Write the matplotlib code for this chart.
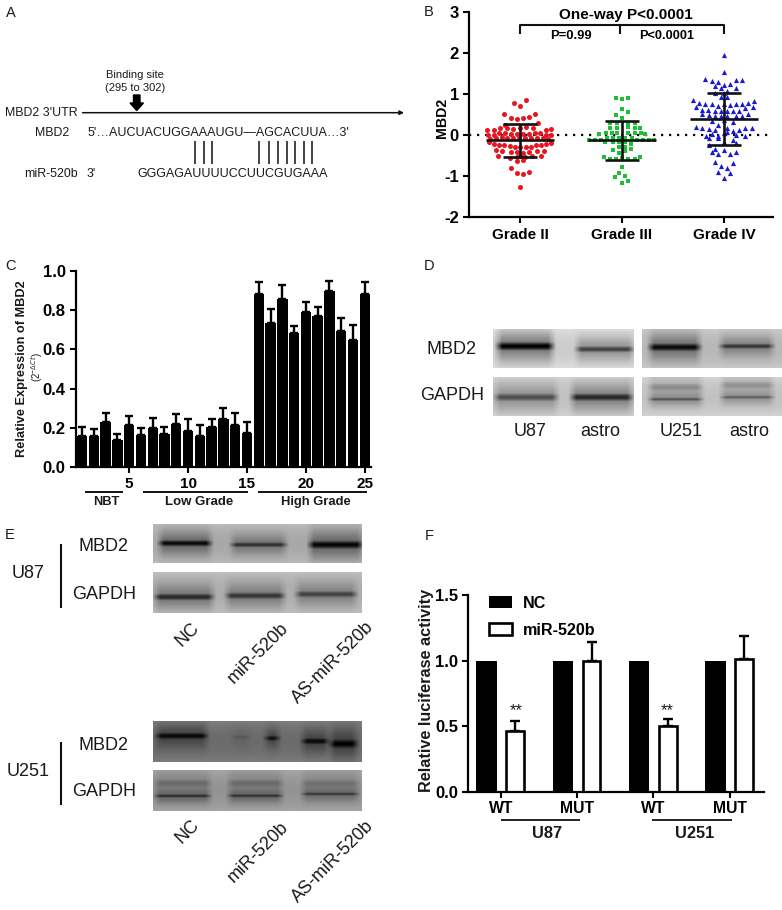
import numpy as np
import matplotlib
matplotlib.use("Agg")
import matplotlib.pyplot as plt
from matplotlib.patches import Polygon

plt.rcParams['font.family'] = ['Liberation Sans', 'DejaVu Sans']
plt.rcParams['mathtext.fontset'] = 'custom'
plt.rcParams['mathtext.rm'] = 'Liberation Sans'
plt.rcParams['mathtext.bf'] = 'Liberation Sans:bold'
W, H = 782, 910

# Panel B: (swarm offset in zoom px, value in zoom px)
red_pts = [(138,31),(101,40),(119,48),(73,73),(165,71),(92,83),(110,86),(128,84),(147,80),(174,100),(74,105),
 (22,120),(41,120),(60,115),(80,115),(100,117),(120,115),(138,112),(158,115),(197,120),(214,117),
 (24,134),(41,135),(58,130),(75,130),(92,132),(110,132),(128,133),(146,132),(165,130),(180,130),(197,135),(214,135),
 (30,147),(48,143),(65,142),(82,145),(100,145),(118,145),(135,145),(152,143),(170,143),(188,145),(205,147),
 (27,157),(42,163),(58,165),(73,166),(90,167),(106,170),(120,172),(137,172),(152,170),(168,166),(182,165),(197,163),(212,160),
 (47,181),(65,184),(92,187),(110,187),(128,188),(146,185),(172,183),(193,183),
 (55,198),(90,205),(110,200),(120,198),(135,200),(155,198),(183,197),(110,214),(128,210),
 (92,234),(110,248),(128,251),(147,246),(119,292)]
green_pts = [(101,25),(120,28),(138,24),(120,58),(138,66),(101,75),(120,84),(84,100),(105,100),(138,100),(158,100),
 (84,115),(105,113),(138,112),(158,115),(175,115),(52,132),(72,130),(90,130),(105,130),(138,130),(158,130),(178,130),(190,132),
 (22,150),(40,150),(58,150),(75,145),(93,143),(110,145),(128,143),(150,143),(165,150),(182,150),(200,150),(217,150),
 (70,155),(92,157),(110,155),(128,157),(148,162),(92,180),(110,170),(128,170),(148,178),(128,183),(110,190),
 (65,202),(83,208),(102,208),(120,205),(138,207),(158,207),(175,200),
 (120,230),(110,250),(100,262),(120,280),(130,258),(138,272)]
blue_pts = [(121,30),(121,82),(65,103),(84,107),(103,110),(158,106),(176,104),(94,124),(121,120),(139,116),(112,130),(130,138),(157,130),
 (94,145),(121,145),(112,157),(130,157),(29,166),(47,174),(212,168),(65,177),(84,177),(103,182),(121,177),(139,180),(157,178),(176,177),(194,174),
 (38,187),(56,195),(74,195),(93,197),(111,197),(130,197),(148,197),(167,197),(185,190),(207,186),
 (56,208),(75,210),(93,213),(112,213),(130,213),(158,213),(176,213),(194,208),(84,228),(121,225),
 (103,240),(148,231),(38,245),(56,250),(75,252),(94,255),(130,250),(148,257),(167,255),(185,250),(204,248),
 (66,273),(84,268),(103,272),(121,263),(130,262),(157,270),(185,273),(75,278),(102,280),(148,285),(121,290),(158,295),
 (75,300),(84,320),(94,313),(103,327),(121,315),(139,328),(157,322),(94,352),(112,362),(148,355),(130,370),(103,382),(139,383),(121,398)]
grades = ["Grade II", "Grade III", "Grade IV"]
grade_mean = [-0.14, -0.14, 0.39]
grade_sd_top = [0.26, 0.34, 1.02]
grade_sd_bot = [-0.55, -0.62, -0.24]

# Panel C
sample_ids = list(range(1, 26))
expr = [.16,.16,.23,.14,.215,.165,.2,.17,.22,.185,.16,.205,.245,.215,.175,.88,.735,.855,.685,.79,.77,.895,.695,.65,.88]
expr_top = [.205,.195,.275,.17,.26,.2,.25,.205,.27,.245,.215,.245,.3,.275,.23,.94,.805,.925,.72,.84,.815,.95,.76,.725,.94]
c_ticks = [5, 10, 15, 20, 25]

# Panel F
f_labels = ["WT", "MUT", "WT", "MUT"]
nc_vals = [1.0, 1.0, 1.0, 1.0]
mir_vals = [0.46, 1.0, 0.5, 1.01]
mir_top = [0.54, 1.145, 0.555, 1.185]

# Blots: (x0, x1, y0, y1, background, [(band x0, x1, y, sd, darkness), ...])
blots = [
 (493,634,329,368,.80,[(497,553,346,3.3,.0),(576,633,349,2.4,.25)]),
 (493,634,377,416,.76,[(495,557,397,3,.3),(571,632,397,3,.15)]),
 (642,782,329,368,.72,[(649,700,347,3,.03),(720,773,346,2,.2)]),
 (642,782,377,416,.76,[(649,702,387,3,.55),(721,773,385,3,.58),(649,702,399,1.2,.3),(721,773,397,1.2,.35)]),
 (153,362,524,563,.66,[(159,211,543,2.5,.03),(231,286,544.5,2,.18),(309,362,544.5,3.2,.02)]),
 (153,362,572,613,.68,[(155,213,596.7,2.6,.15),(226,284,595.5,2.6,.2),(296,356,594,2.5,.25)]),
 (153,362,721,762,.42,[(156,207,735.7,2.5,.03),(232,250,737,2,.35),(265,279,738,2,.05),(302,328,741,2.5,.03),(330,357,743.5,3.5,.0)]),
 (153,362,770,811,.58,[(155,210,783,3,.42),(228,282,783,3,.42),(302,358,783,3,.45),(155,210,795.7,1.3,.15),(228,282,795.5,1.3,.18),(302,358,793.7,1.2,.2)]),
]

fig = plt.figure(figsize=(W/100, H/100), dpi=100, facecolor='white')

ov = fig.add_axes([0, 0, 1, 1], zorder=0)

def blot(x0, x1, y0, y1, bg, bands):
    xs, ys = np.meshgrid(np.arange(x0, x1, .5), np.arange(y0, y1, .5))
    g = bg + .07*np.abs((ys-(y0+y1)/2)/((y1-y0)/2))**2
    for bx0, bx1, by, sd, d in bands:
        core = np.exp(-((ys-by)/sd)**2/2)
        halo = .4*np.exp(-((ys-by)/(sd*2.6+2))**2/2)
        a = np.maximum(core, halo)
        a = a*np.clip((xs-bx0+3)/8, 0, 1)*np.clip((bx1-xs+3)/8, 0, 1)
        g = g*(1-a) + d*a
    ov.imshow(g, extent=(x0, x1, y1, y0), cmap='gray', vmin=0, vmax=1,
              aspect='auto', interpolation='bilinear')

for b in blots:
    blot(*b)
ov.set_xlim(0, W); ov.set_ylim(H, 0); ov.axis('off')

def T(x, y, s, size=9, weight='normal', ha='center', va='center', rot=0, color='#1a1a1a'):
    ov.text(x, y, s, fontsize=size, fontweight=weight, ha=ha, va=va, rotation=rot,
            color=color, rotation_mode='anchor')

def L(xs, ys, lw=1.2, color='#111111'):
    ov.plot(xs, ys, color=color, lw=lw, solid_capstyle='butt')

def axpx(x0, y0, x1, y1):
    a = fig.add_axes([x0/W, 1-y1/H, (x1-x0)/W, (y1-y0)/H], zorder=1)
    a.patch.set_alpha(0)
    for s in ('top', 'right'):
        a.spines[s].set_visible(False)
    for s in ('left', 'bottom'):
        a.spines[s].set_linewidth(1.6)
    a.tick_params(width=1.5, length=4)
    return a

# panel letters
for x, y, s in [(11,13,'A'),(429,12,'B'),(11,266,'C'),(429,266,'D'),(10,535,'E'),(429,536,'F')]:
    T(x, y, s, size=10.5)

# Panel A
T(135, 74.7, "Binding site", 8)
T(135, 88, "(295 to 302)", 8)
ov.add_patch(Polygon([(133.5,95),(140,95),(140,103),(143.5,103),(136.7,110.5),(130,103),(133.5,103)], color='black'))
ov.annotate("", xy=(404,112.7), xytext=(82.5,112.7),
            arrowprops=dict(arrowstyle='-|>', lw=1.1, color='#111111', mutation_scale=6, shrinkA=0, shrinkB=0))
T(4.7, 112.7, "MBD2 3'UTR", 8.9, ha='left')
T(51.7, 133.3, "MBD2", 8.9)
T(87.3, 133.3, "5'…AUCUACUGGAAAUGU—AGCACUUA…3'", 9, ha='left')
T(78, 174, "miR-520b", 8.9, ha='right')
T(87, 174, "3'", 8.9, ha='left')
T(137, 174, "GGGAGAUUUUCCUUCGUGAAA", 9, ha='left')
for zx in [586, 612, 637, 777, 806, 835, 860, 886, 911, 936]:
    L([zx/3, zx/3], [141, 163.5], lw=1.1)

# Panel B
axb = axpx(469.3, 11.7, 773, 216.7)
axb.set_xlim(-0.497, 2.48); axb.set_ylim(-2, 3)
axb.axhline(0, color='black', lw=1.6, ls=(0, (1, 2.6)), zorder=1)
styles = [(red_pts, 'o', '#e8141e', 13, 134, 120), (green_pts, 's', '#1cbf35', 12, 134, 120), (blue_pts, '^', '#1a1ad0', 14, 269, 121)]
for i, (pts, m, c, s, zero, cen) in enumerate(styles):
    p = np.array(pts, float)
    axb.scatter(i + (p[:, 0]-cen)/306, (zero-p[:, 1])/123, marker=m, s=s, color=c, linewidths=0, zorder=2)
    axb.hlines(grade_mean[i], i-.333, i+.333, color='#111111', lw=1.9, zorder=3)
    axb.vlines(i, grade_sd_bot[i], grade_sd_top[i], color='#111111', lw=1.9, zorder=3)
    axb.hlines([grade_sd_bot[i], grade_sd_top[i]], i-.167, i+.167, color='#111111', lw=1.9, zorder=3)
axb.set_xticks(range(3)); axb.set_xticklabels(grades, fontsize=11, fontweight='bold')
axb.set_yticks(range(-2, 4)); axb.set_yticklabels([str(v) for v in range(-2, 4)], fontsize=12, fontweight='bold')
axb.tick_params(axis='x', pad=4)
T(441.7, 118, "MBD2", 10.2, 'bold', rot=90, color='black')
L([520, 520, 724, 724], [34, 25, 25, 34], lw=1.5)
L([620, 620], [25, 34], lw=1.5)
T(625.7, 15, "One-way P<0.0001", 11, 'bold', color='black')
T(570.7, 36, "P=0.99", 9.4, 'bold', color='black')
T(666.7, 36, "P<0.0001", 9.2, 'bold', color='black')

# Panel C
axc = axpx(76, 270.7, 370.7, 467.3)
axc.set_xlim(0.49, 25.5); axc.set_ylim(0, 1.0)
x = np.array(sample_ids, float)
e = np.array(expr); t = np.array(expr_top)
axc.bar(x, e, width=.88, color='black', zorder=2)
axc.errorbar(x, e, yerr=[np.zeros_like(e), t-e], fmt='none', ecolor='black', elinewidth=1.7, capsize=2.6, capthick=1.7, zorder=1)
axc.set_xticks(c_ticks); axc.set_xticklabels([str(v) for v in c_ticks], fontsize=11, fontweight='bold')
axc.set_yticks(np.arange(0, 1.01, .2)); axc.set_yticklabels([f"{v:.1f}" for v in np.arange(0, 1.01, .2)], fontsize=12, fontweight='bold')
axc.tick_params(axis='x', pad=3)
T(21.7, 369, "Relative Expression of MBD2", 9.2, 'bold', rot=90)
T(37, 366.7, r"(2$^{-\Delta Ct}$)", 7, rot=90)
L([85, 123], [491.7, 491.7], lw=1.4); L([143, 248], [491.7, 491.7], lw=1.4); L([258, 367], [491.7, 491.7], lw=1.4)
T(106.7, 502, "NBT", 9.3, 'bold'); T(199, 502, "Low Grade", 9.5, 'bold'); T(316, 502, "High Grade", 9.4, 'bold')

# Panel D labels
T(451, 350, "MBD2", 13); T(451.7, 396, "GAPDH", 13)
T(530, 432, "U87", 13); T(600, 432, "astro", 13); T(680.7, 432, "U251", 13); T(749, 432, "astro", 13)

# Panel E labels
for yM, yG, yC, s, y0, y1 in [(546.7, 594.7, 574, "U87", 544, 607.7), (746, 791.7, 771.7, "U251", 741.7, 805)]:
    T(103, yM, "MBD2", 13); T(104, yG, "GAPDH", 13); T(28, yC, s, 13)
    L([61, 61], [y0, y1], lw=1.5)
for x0, y0s, s in [(188, (635, 831.7), "NC"), (258, (652.7, 851.7), "miR-520b"), (333, (662.7, 861.7), "AS-miR-520b")]:
    for y0 in y0s:
        T(x0, y0, s, 13, rot=45)

# Panel F
axf = axpx(468.3, 595, 764, 791.7)
axf.set_xlim(-0.429, 3.45); axf.set_ylim(0, 1.5)
cats = np.arange(4)
m = np.array(mir_vals); mt = np.array(mir_top)
axf.bar(cats-.1875, nc_vals, width=.27, color='black', label='NC', zorder=2)
axf.bar(cats+.1875, m, width=.235, facecolor='white', edgecolor='black', linewidth=1.9, label='miR-520b', zorder=2)
axf.errorbar(cats+.1875, m, yerr=[np.zeros(4), mt-m], fmt='none', ecolor='black', elinewidth=1.7, capsize=3.4, capthick=1.7, zorder=1)
axf.set_xticks(cats); axf.set_xticklabels(f_labels, fontsize=11.3, fontweight='bold')
axf.set_yticks([0, .5, 1, 1.5]); axf.set_yticklabels(["0.0", "0.5", "1.0", "1.5"], fontsize=12, fontweight='bold')
axf.tick_params(axis='x', pad=3)
leg = axf.legend(loc='upper left', bbox_to_anchor=(489/W, 1-595.5/H), bbox_transform=fig.transFigure,
                 frameon=False, prop={'weight': 'bold', 'size': 11.6}, handlelength=1.45, handleheight=.8,
                 labelspacing=.75, handletextpad=.65, borderpad=0, borderaxespad=0)
T(427, 690, "Relative luciferase activity", 11.7, 'bold', rot=90)
T(515.8, 711, "**", 12); T(667.7, 711, "**", 12)
L([501, 580], [820, 820], lw=1.3); L([652, 732], [820, 820], lw=1.3)
T(546.7, 833, "U87", 11.8, 'bold'); T(695, 833, "U251", 11.8, 'bold')

fig.savefig("out.png", dpi=100)
